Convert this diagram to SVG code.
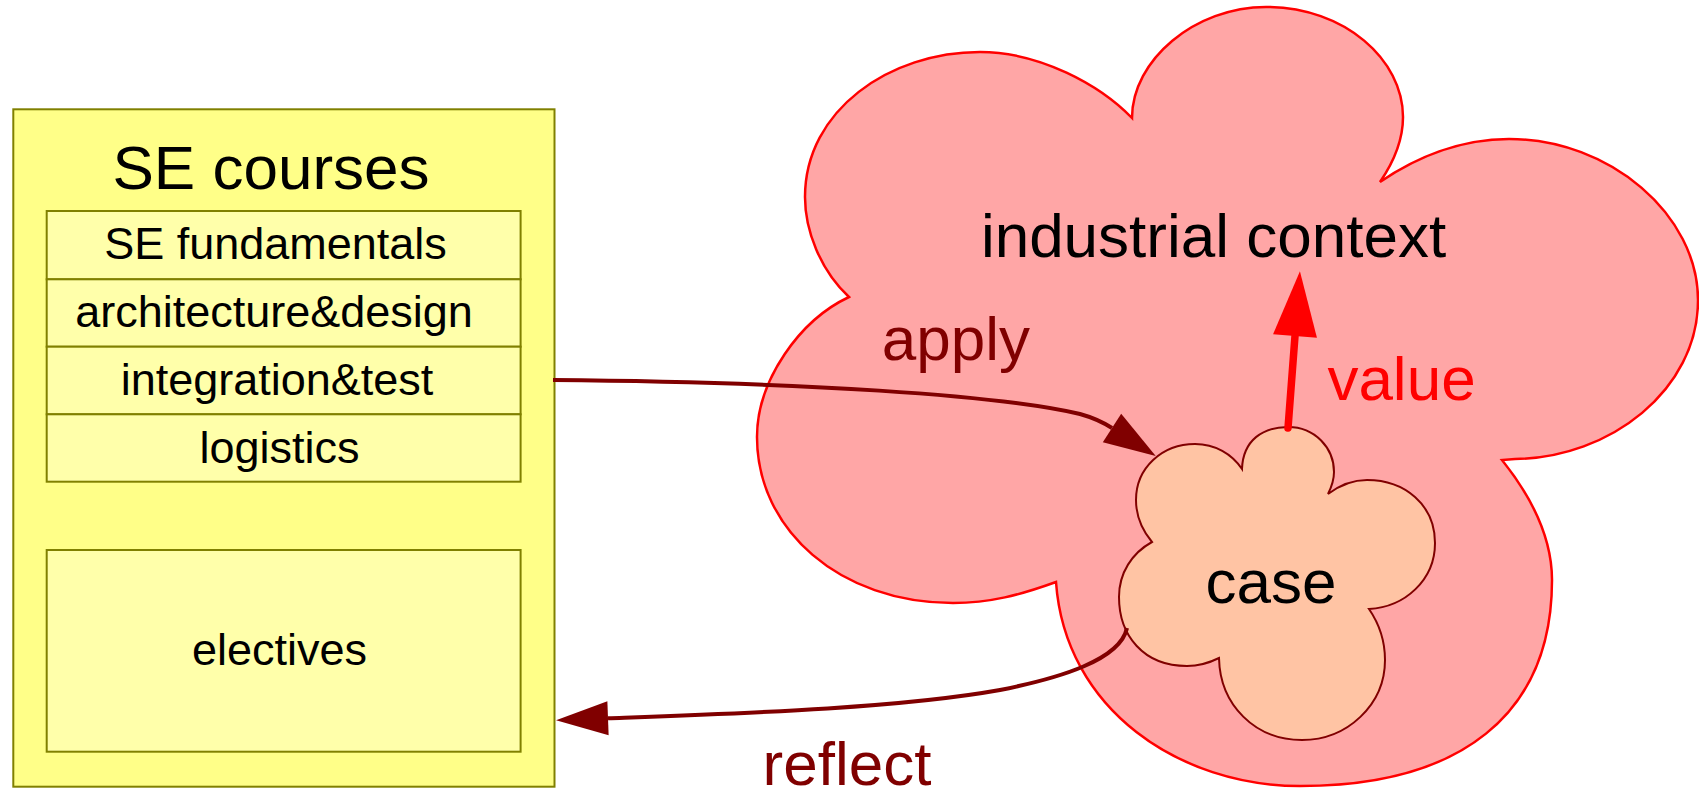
<svg xmlns="http://www.w3.org/2000/svg" width="1699" height="795" viewBox="0 0 1699 795">
  <style>
    text { font-family: "Liberation Sans", Arial, sans-serif; text-anchor: middle; }
    .box { fill: #ffff88; stroke: #808000; stroke-width: 2; }
    .row { fill: #ffffaa; stroke: #808000; stroke-width: 2; }
    .big { font-size: 62px; fill: #000000; }
    .item { font-size: 45px; fill: #000000; }
    .dark { font-size: 62px; fill: #800000; }
    .red { font-size: 62px; fill: #ff0000; }
    .conn-dark { fill: none; stroke: #800000; stroke-width: 4; }
    .conn-red { fill: none; stroke: #ff0000; stroke-width: 7.5; stroke-linecap: round; }
  </style>
  <defs>
    <marker id="headDark" markerUnits="userSpaceOnUse" markerWidth="60" markerHeight="40" refX="0" refY="17" orient="auto" overflow="visible">
      <path d="M0,0 L52,17 L0,34 Z" fill="#800000"/>
    </marker>
    <marker id="headRed" markerUnits="userSpaceOnUse" markerWidth="70" markerHeight="50" refX="0" refY="22" orient="auto" overflow="visible">
      <path d="M0,0 L65,22 L0,44 Z" fill="#ff0000"/>
    </marker>
  </defs>

  <g id="se-courses">
    <rect class="box" x="13.3" y="109.3" width="541.2" height="677.4"/>
    <text class="big" x="271" y="189">SE courses</text>
  </g>
  <g id="se-fundamentals">
    <rect class="row" x="46.7" y="211" width="473.9" height="68.3"/>
    <text class="item" x="275.5" y="259.3">SE fundamentals</text>
  </g>
  <g id="architecture-design">
    <rect class="row" x="46.7" y="279.3" width="473.9" height="67.4"/>
    <text class="item" x="274" y="327">architecture&amp;design</text>
  </g>
  <g id="integration-test">
    <rect class="row" x="46.7" y="346.7" width="473.9" height="67.6"/>
    <text class="item" x="277" y="394.5">integration&amp;test</text>
  </g>
  <g id="logistics">
    <rect class="row" x="46.7" y="414.3" width="473.9" height="67.4"/>
    <text class="item" x="279.5" y="462.5">logistics</text>
  </g>
  <g id="electives">
    <rect class="row" x="46.7" y="550" width="473.9" height="201.7"/>
    <text class="item" x="279.5" y="665">electives</text>
  </g>

  <g id="industrial-context">
    <path fill="#ffa6a6" stroke="#ff0000" stroke-width="2.5" stroke-linejoin="miter"
      d="M849,297 C820,270 805,230 805,197 C805,110 890,52 980,52 C1040,52 1100,85 1132,118
         C1132,60 1195,7 1266,7 C1345,7 1403,60 1403,117 C1403,140 1393,163 1380,182
         C1415,158 1460,139 1509,139 C1610,139 1698,215 1698,300 C1698,390 1610,458 1515,459 L1502,460
         C1530,495 1552,535 1552,580 C1552,715 1460,786 1300,786 C1180,786 1065,710 1056,582
         C1020,595 990,603 953,603 C840,603 757,530 757,437 C757,380 800,320 849,297 Z"/>
    <text class="big" x="1213.5" y="256.7">industrial context</text>
  </g>

  <g id="case">
    <path fill="#ffc4a4" stroke="#800000" stroke-width="2"
      d="M1242,469 C1243,440 1263,427 1288,427 C1315,427 1334,448 1334,472 C1334,480 1331,488 1328,494
         C1340,485 1352,480 1367,480 C1405,480 1435,505 1435,543 C1435,580 1405,607 1369,609
         C1380,625 1385,640 1385,660 C1385,705 1347,740 1302,740 C1255,740 1220,705 1219,658
         C1209,663 1198,666 1187,666 C1143,666 1119,635 1119,597 C1119,573 1132,553 1152,542
         C1142,530 1136,515 1136,500 C1136,468 1162,444 1195,444 C1215,444 1232,454 1242,469 Z"/>
    <text class="big" x="1271" y="603">case</text>
  </g>

  <g id="connectors">
    <path id="apply" class="conn-dark" d="M553,380 C800,382 1000,395 1080,414 Q1098,419 1112,428" marker-end="url(#headDark)"/>
    <path id="reflect" class="conn-dark" d="M1127,628 C1120,660 1060,678 1000,690 C900,708 750,713 608,718.3" marker-end="url(#headDark)"/>
    <path id="value" class="conn-red" d="M1288,428 L1295,336" marker-end="url(#headRed)"/>
    <text class="dark" x="955.8" y="360">apply</text>
    <text class="red" x="1401.5" y="400">value</text>
    <text class="dark" x="847" y="785">reflect</text>
  </g>
</svg>
